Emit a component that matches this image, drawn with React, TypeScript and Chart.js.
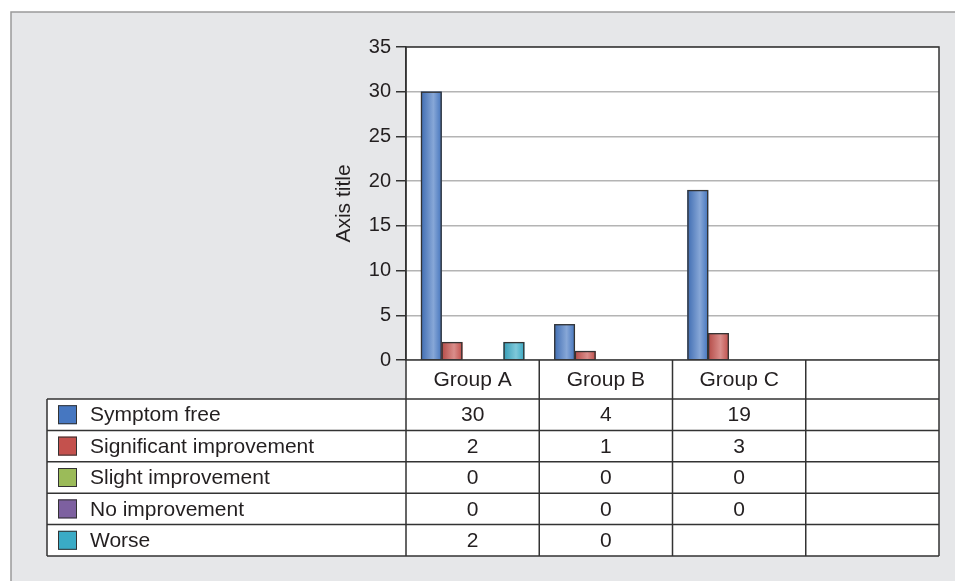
import React, { useEffect, useRef } from 'react';
import { Chart, registerables } from 'chart.js';

Chart.register(...registerables);

const categories = ['Group A', 'Group B', 'Group C', ''];
const seriesNames = ['Symptom free', 'Significant improvement', 'Slight improvement', 'No improvement', 'Worse'];
const symptomFree = [30, 4, 19, null];
const significantImprovement = [2, 1, 3, null];
const slightImprovement = [0, 0, 0, null];
const noImprovement = [0, 0, 0, null];
const worse = [2, 0, null, null];
const seriesValues = [symptomFree, significantImprovement, slightImprovement, noImprovement, worse];
const seriesColors = ['#4677c1', '#c4514d', '#9bbb59', '#7d60a0', '#3aabc6'];
const yMin = 0;
const yMax = 35;
const yStep = 5;
const yTitle = 'Axis title';

const FONT = '"Liberation Sans", Arial, sans-serif';
const TEXT = '#231f20';
const LINE = '#333333';

function mix(hex: string, amt: number): string {
  const n = parseInt(hex.slice(1), 16);
  let r = (n >> 16) & 255, g = (n >> 8) & 255, b = n & 255;
  const t = amt >= 0 ? 255 : 0;
  const a = Math.abs(amt);
  r = Math.round(r + (t - r) * a);
  g = Math.round(g + (t - g) * a);
  b = Math.round(b + (t - b) * a);
  return `rgb(${r},${g},${b})`;
}

const framePlugin = {
  id: 'frame',
  beforeDraw(chart: any) {
    const { ctx, width, height, chartArea: a } = chart;
    ctx.save();
    ctx.fillStyle = '#ffffff';
    ctx.fillRect(0, 0, width, height);
    ctx.fillStyle = '#e6e7e9';
    ctx.fillRect(11, 12, width - 11, height - 12);
    ctx.strokeStyle = '#9b9b9b';
    ctx.lineWidth = 1.5;
    ctx.beginPath();
    ctx.moveTo(11, height);
    ctx.lineTo(11, 12);
    ctx.lineTo(width, 12);
    ctx.stroke();
    ctx.fillStyle = '#ffffff';
    ctx.fillRect(a.left, a.top, a.right - a.left, a.bottom - a.top);
    ctx.restore();
  },
  afterDatasetsDraw(chart: any) {
    const { ctx } = chart;
    ctx.save();
    chart.data.datasets.forEach((ds: any, di: number) => {
      const meta = chart.getDatasetMeta(di);
      const color = seriesColors[di];
      meta.data.forEach((el: any, i: number) => {
        const v = ds.data[i];
        if (v == null || v === 0) return;
        const { x, y, base, width } = el.getProps(['x', 'y', 'base', 'width'], true);
        const l = x - width / 2;
        const r = x + width / 2;
        const g = ctx.createLinearGradient(l, 0, r, 0);
        g.addColorStop(0, mix(color, -0.08));
        g.addColorStop(0.6, mix(color, 0.35));
        g.addColorStop(1, mix(color, -0.02));
        ctx.fillStyle = g;
        ctx.fillRect(l, y, width, base - y);
        ctx.strokeStyle = LINE;
        ctx.lineWidth = 1.3;
        ctx.strokeRect(l + 0.5, y + 0.5, width - 1, base - y);
      });
    });
    ctx.restore();
  },
  afterDraw(chart: any) {
    const { ctx, chartArea: a } = chart;
    const n = chart.data.labels.length;
    const cw = (a.right - a.left) / n;
    const headerBottom = a.bottom + 39;
    const tableLeft = 47;
    const rows = chart.data.datasets.length;
    const tableBottom = 556;
    const rowH = (tableBottom - headerBottom) / rows;
    const xs = chart.scales.x;

    ctx.save();
    ctx.fillStyle = '#ffffff';
    ctx.fillRect(a.left, a.bottom, a.right - a.left, headerBottom - a.bottom);
    ctx.fillRect(tableLeft, headerBottom, a.right - tableLeft, tableBottom - headerBottom);

    ctx.strokeStyle = LINE;
    ctx.lineWidth = 1.5;
    ctx.strokeRect(a.left, a.top, a.right - a.left, a.bottom - a.top);
    ctx.beginPath();
    for (let i = 0; i <= n; i++) {
      const bx = a.left + i * cw;
      ctx.moveTo(bx, a.bottom);
      ctx.lineTo(bx, tableBottom);
    }
    ctx.moveTo(tableLeft, headerBottom);
    ctx.lineTo(a.right, headerBottom);
    for (let r = 1; r <= rows; r++) {
      const ry = headerBottom + r * rowH;
      ctx.moveTo(tableLeft, ry);
      ctx.lineTo(a.right, ry);
    }
    ctx.moveTo(tableLeft, headerBottom);
    ctx.lineTo(tableLeft, tableBottom);
    ctx.stroke();

    ctx.fillStyle = TEXT;
    ctx.font = `21px ${FONT}`;
    ctx.textAlign = 'center';
    ctx.textBaseline = 'middle';
    chart.data.labels.forEach((lab: string, i: number) => {
      ctx.fillText(lab, xs.getPixelForValue(i), (a.bottom + headerBottom) / 2 + 1);
    });

    chart.data.datasets.forEach((ds: any, r: number) => {
      const cy = headerBottom + r * rowH + rowH / 2;
      ctx.fillStyle = seriesColors[r];
      ctx.fillRect(58, cy - 9.5, 19, 19);
      ctx.strokeStyle = LINE;
      ctx.lineWidth = 1;
      ctx.strokeRect(58.5, cy - 9, 18, 18);
      ctx.fillStyle = TEXT;
      ctx.textAlign = 'left';
      ctx.fillText(ds.label, 90, cy + 1);
      ctx.textAlign = 'center';
      ds.data.forEach((v: any, i: number) => {
        if (v == null) return;
        ctx.fillText(String(v), xs.getPixelForValue(i), cy + 1);
      });
    });
    ctx.restore();
  },
};

export default function App() {
  const ref = useRef<HTMLCanvasElement | null>(null);
  useEffect(() => {
    if (!ref.current) return;
    const chart = new Chart(ref.current, {
      type: 'bar',
      data: {
        labels: categories,
        datasets: seriesNames.map((name, i) => ({
          label: name,
          data: seriesValues[i],
          backgroundColor: seriesColors[i],
          borderWidth: 0,
          categoryPercentage: 0.775,
          barPercentage: 1,
        })),
      },
      options: {
        animation: false,
        responsive: false,
        devicePixelRatio: 1,
        layout: { padding: { left: 332, top: 47, right: 16, bottom: 221 } },
        plugins: { legend: { display: false }, tooltip: { enabled: false } },
        scales: {
          x: { display: false },
          y: {
            min: yMin,
            max: yMax,
            afterFit: (s: any) => { s.width = 406 - 332; },
            ticks: { stepSize: yStep, color: TEXT, font: { family: FONT, size: 20 }, padding: 5 },
            grid: { color: '#b4b4b4', lineWidth: 1.5, tickLength: 10, tickColor: LINE, tickWidth: 1.5 },
            border: { color: LINE, width: 1.5 },
            title: { display: true, text: yTitle, color: TEXT, font: { family: FONT, size: 21 }, padding: { top: 0, bottom: 0 } },
          },
        },
      },
      plugins: [framePlugin],
    });
    return () => chart.destroy();
  }, []);
  return (
    <div style={{ position: 'fixed', left: 0, top: 0, width: 955, height: 581 }}>
      <canvas ref={ref} width={955} height={581} style={{ display: 'block', width: 955, height: 581 }} />
    </div>
  );
}
